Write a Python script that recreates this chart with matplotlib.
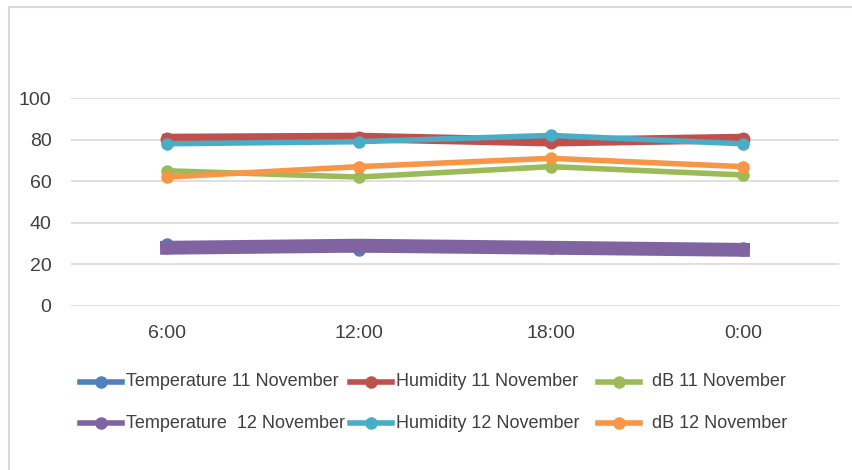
import matplotlib.pyplot as plt
from matplotlib.lines import Line2D

plt.rcParams['font.family'] = ['Liberation Sans Narrow', 'Liberation Sans', 'DejaVu Sans']

times = ["6:00", "12:00", "18:00", "0:00"]

temp_11 = [30, 27, 28, 28]
hum_11 = [80.5, 81, 79, 80.5]
db_11 = [65, 62, 67, 63]
temp_12 = [28, 29, 28, 27]
hum_12 = [78, 79, 82, 78]
db_12 = [62, 67, 71, 67]

fig = plt.figure(figsize=(8.53, 4.70), dpi=100)
ax = fig.add_axes([71/853, 1 - 306/470, 768/853, (306-98)/470])

x = range(len(times))
# drawn in this order so the overlaps look like the original
ax.plot(x, temp_11, color='#4f81bd', lw=4, marker='o', ms=8, zorder=3)
ax.plot(x, temp_12, color='#8064a2', lw=10, marker='o', ms=8, zorder=4)
ax.plot(x, hum_11, color='#c0504d', lw=7, marker='o', ms=9, zorder=3)
ax.plot(x, db_11, color='#9bbb59', lw=4, marker='o', ms=8, zorder=3)
ax.plot(x, hum_12, color='#4bacc6', lw=4, marker='o', ms=8, zorder=4)
ax.plot(x, db_12, color='#f79646', lw=4, marker='o', ms=8, zorder=4)

ax.set_xlim(-0.5, 3.5)
ax.set_ylim(0, 100)
ax.set_yticks([0, 20, 40, 60, 80, 100])
ax.set_xticks(list(x))
ax.set_xticklabels(times)
ax.yaxis.grid(True, color='#d9d9d9', lw=1.2)
ax.set_axisbelow(True)
for s in ax.spines.values():
    s.set_visible(False)
ax.tick_params(length=0, labelsize=14, colors='#404040')
ax.tick_params(axis='y', pad=14)
ax.tick_params(axis='x', pad=14)

# legend, two rows of three: (label, colour, line start x, row y) in pixels
entries = [
    ("Temperature 11 November", '#4f81bd', 80, 382),
    ("Humidity 11 November", '#c0504d', 350, 382),
    ("dB 11 November", '#9bbb59', 598, 382),
    ("Temperature  12 November", '#8064a2', 80, 423),
    ("Humidity 12 November", '#4bacc6', 350, 423),
    ("dB 12 November", '#f79646', 598, 423),
]
for label, col, lx, ly in entries:
    fy = 1 - ly / 470
    fig.add_artist(Line2D([lx/853, (lx+42)/853], [fy, fy], color=col, lw=4,
                          transform=fig.transFigure))
    fig.add_artist(Line2D([(lx+21)/853], [fy], color=col, marker='o', ms=8,
                          transform=fig.transFigure))
    gap = 12 if label.startswith("dB") else 4
    fig.text((lx + 42 + gap)/853, fy, label, fontsize=13, color='#404040',
             va='center', ha='left')

# frame around the chart area
fig.add_artist(Line2D([9/853, 9/853, 1], [0, 1 - 7/470, 1 - 7/470], color='#d9d9d9',
                      lw=1.5, transform=fig.transFigure))

fig.savefig("out.png", dpi=100)
